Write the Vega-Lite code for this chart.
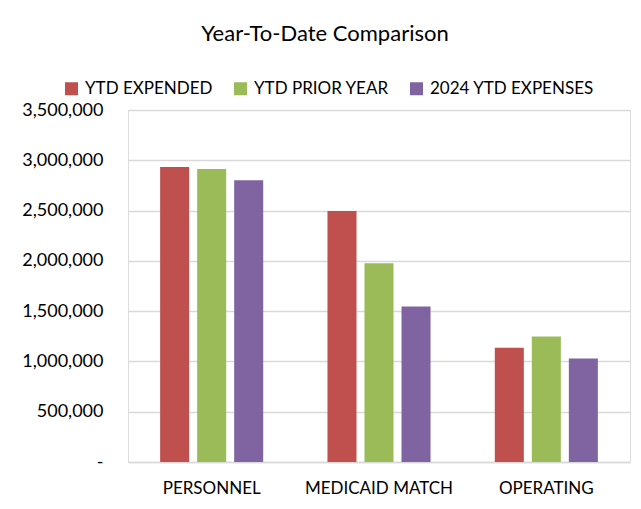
{
  "$schema": "https://vega.github.io/schema/vega-lite/v6.json",
  "autosize": "none",
  "width": 502,
  "height": 352,
  "padding": {"left": 128, "top": 110, "right": 11, "bottom": 47},
  "background": "white",
  "title": {
    "text": "Year-To-Date Comparison",
    "anchor": "middle",
    "frame": "group",
    "dx": -54,
    "offset": 34,
    "fontSize": 22,
    "font": "Lato",
    "fontWeight": "normal",
    "color": "#000000"
  },
  "data": {
    "values": [
      {"category": "PERSONNEL", "series": "YTD EXPENDED", "value": 2933000},
      {"category": "PERSONNEL", "series": "YTD PRIOR YEAR", "value": 2914000},
      {"category": "PERSONNEL", "series": "2024 YTD EXPENSES", "value": 2801000},
      {"category": "MEDICAID MATCH", "series": "YTD EXPENDED", "value": 2496000},
      {"category": "MEDICAID MATCH", "series": "YTD PRIOR YEAR", "value": 1977000},
      {"category": "MEDICAID MATCH", "series": "2024 YTD EXPENSES", "value": 1546000},
      {"category": "OPERATING", "series": "YTD EXPENDED", "value": 1135000},
      {"category": "OPERATING", "series": "YTD PRIOR YEAR", "value": 1248000},
      {"category": "OPERATING", "series": "2024 YTD EXPENSES", "value": 1029000}
    ]
  },
  "mark": {"type": "bar"},
  "encoding": {
    "x": {
      "field": "category",
      "type": "nominal",
      "sort": ["PERSONNEL", "MEDICAID MATCH", "OPERATING"],
      "scale": {"paddingInner": 0, "paddingOuter": 0},
      "axis": {
        "title": null,
        "labelAngle": 0,
        "labelFontSize": 17,
        "labelFont": "Lato",
        "labelColor": "#000000",
        "labelPadding": 18,
        "ticks": false,
        "domainColor": "#d9d9d9",
        "domainWidth": 1.5
      }
    },
    "xOffset": {
      "field": "series",
      "type": "nominal",
      "sort": ["YTD EXPENDED", "YTD PRIOR YEAR", "2024 YTD EXPENSES"],
      "scale": {"paddingInner": 0.216, "paddingOuter": 0.868}
    },
    "y": {
      "field": "value",
      "type": "quantitative",
      "scale": {"domain": [0, 3500000], "nice": false},
      "axis": {
        "title": null,
        "values": [0, 500000, 1000000, 1500000, 2000000, 2500000, 3000000, 3500000],
        "labelExpr": "datum.value === 0 ? '-\u00a0\u00a0\u00a0' : format(datum.value, ',')",
        "labelFontSize": 18,
        "labelFont": "Lato",
        "labelColor": "#000000",
        "labelPadding": 25,
        "ticks": false,
        "domain": false,
        "gridColor": "#d9d9d9",
        "gridWidth": 1.5
      }
    },
    "color": {
      "field": "series",
      "type": "nominal",
      "sort": ["YTD EXPENDED", "YTD PRIOR YEAR", "2024 YTD EXPENSES"],
      "scale": {
        "domain": ["YTD EXPENDED", "YTD PRIOR YEAR", "2024 YTD EXPENSES"],
        "range": ["#C0504D", "#9BBB59", "#8064A2"]
      },
      "legend": {
        "title": null,
        "orient": "none",
        "direction": "horizontal",
        "legendX": -65,
        "legendY": -30,
        "symbolType": "square",
        "symbolSize": 169,
        "symbolStrokeWidth": 0,
        "labelFontSize": 17,
        "labelFont": "Lato",
        "labelColor": "#000000",
        "labelOffset": 5,
        "labelLimit": 400,
        "columnPadding": 19
      }
    }
  }
}
